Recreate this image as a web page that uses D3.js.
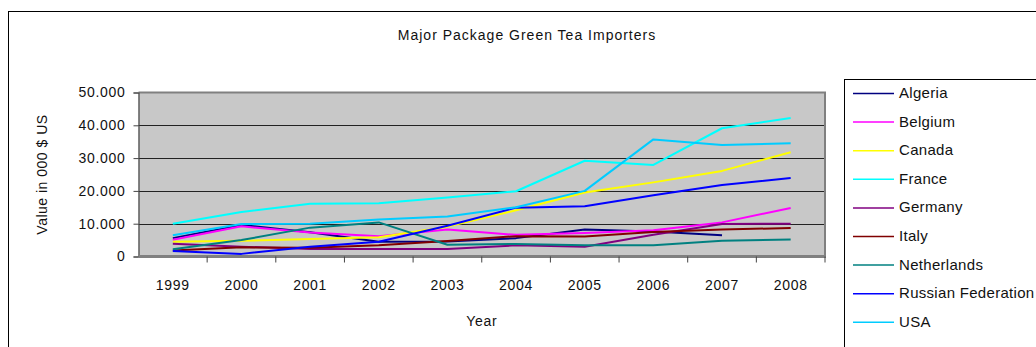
<!DOCTYPE html>
<html>
<head>
<meta charset="utf-8">
<script src="https://cdn.jsdelivr.net/npm/d3@7"></script>
<style>
  html, body { margin: 0; padding: 0; background: #fff; }
  svg { display: block; font-family: "Liberation Sans", Arial, sans-serif; }
</style>
</head>
<body>
<svg id="chart" width="1036" height="347"></svg>
<script>
// Import values, thousands of US dollars
const years = ["1999", "2000", "2001", "2002", "2003", "2004", "2005", "2006", "2007", "2008"];
const countries = ["Algeria", "Belgium", "Canada", "France", "Germany", "Italy", "Netherlands", "Russian Federation", "USA"];
const colors = ["#000080", "#FF00FF", "#FFFF00", "#00FFFF", "#800080", "#800000", "#008080", "#0000FF", "#00CCFF"];

const algeria     = [5600, 9600, 7400, 4500, 4600, 5600, 8200, 7600, 6500, null];
const belgium     = [5100, 9200, 7300, 6200, 8200, 6600, 7200, 8000, 10400, 14800];
const canada      = [4500, 4800, 5300, 5900, 9100, 14100, 19500, 22600, 26100, 31800];
const france      = [10000, 13600, 16100, 16200, 18000, 19900, 29200, 27900, 39100, 42200];
const germany     = [3900, 3000, 2300, 2300, 2300, 3400, 3000, 6600, 9900, 10000];
const italy       = [1800, 2800, 2700, 3400, 4700, 6200, 6100, 7500, 8200, 8700];
const netherlands = [2200, 5000, 8800, 10400, 3600, 3800, 3400, 3400, 4800, 5200];
const russia      = [1700, 800, 3000, 4500, 9400, 14900, 15300, 18700, 21800, 23900];
const usa         = [6500, 9900, 10000, 11300, 12200, 15000, 20000, 35700, 34000, 34500];

const yTicks = [0, 10000, 20000, 30000, 40000, 50000];

const seriesValues = [algeria, belgium, canada, france, germany, italy, netherlands, russia, usa];
const series = countries.map((name, i) => ({ name, color: colors[i], values: seriesValues[i] }));

const svg = d3.select("#chart");

// Chart frame
svg.append("rect")
  .attr("x", 8.5).attr("y", 11.5)
  .attr("width", 1100).attr("height", 400)
  .attr("fill", "#fff").attr("stroke", "#000").attr("stroke-width", 1);

svg.append("text")
  .attr("x", 527).attr("y", 40)
  .attr("text-anchor", "middle")
  .attr("font-size", 14).attr("letter-spacing", 1).attr("fill", "#111")
  .text("Major Package Green Tea Importers");

// Plot area
const plot = { left: 138.5, right: 825, top: 92.5, bottom: 256.5 };

const x = d3.scaleBand().domain(years).range([plot.left, plot.right]).padding(0);
const y = d3.scaleLinear().domain([0, 50000]).range([plot.bottom, plot.top]);

const locale = d3.formatLocale({ decimal: ",", thousands: ".", grouping: [3], currency: ["", "$"] });
const fmt = locale.format(",");

svg.append("rect")
  .attr("x", plot.left).attr("y", plot.top)
  .attr("width", plot.right - plot.left).attr("height", plot.bottom - plot.top)
  .attr("fill", "#C8C8C8");

// Horizontal gridlines
svg.append("g")
  .selectAll("line")
  .data(yTicks.filter(t => t > 0 && t < 50000))
  .join("line")
  .attr("x1", plot.left).attr("x2", plot.right)
  .attr("y1", d => Math.round(y(d)) + 0.5).attr("y2", d => Math.round(y(d)) + 0.5)
  .attr("stroke", "#222").attr("stroke-width", 1.2);

// Plot border (top and right)
svg.append("path")
  .attr("d", `M${plot.left},${plot.top}H${plot.right}V${plot.bottom}`)
  .attr("fill", "none").attr("stroke", "#808080").attr("stroke-width", 2);

// Y axis
const yAxis = d3.axisLeft(y).tickValues(yTicks).tickFormat(d => fmt(d)).tickSize(5).tickPadding(8);
const gy = svg.append("g").attr("transform", `translate(${plot.left},0)`).call(yAxis);
gy.select(".domain").attr("stroke", "#444").attr("stroke-width", 1.2);
gy.selectAll(".tick line").attr("stroke", "#444");
gy.selectAll(".tick text")
  .attr("font-size", 14).attr("letter-spacing", 0.7).attr("fill", "#111")
  .attr("font-family", "Liberation Sans, Arial, sans-serif");

// X axis with ticks between categories
const gx = svg.append("g").attr("transform", `translate(0,${plot.bottom})`);
gx.append("line")
  .attr("x1", plot.left).attr("x2", plot.right + 1)
  .attr("y1", 0).attr("y2", 0)
  .attr("stroke", "#808080").attr("stroke-width", 3);
gx.selectAll("line.tk")
  .data(years.slice(1).concat(["end"]))
  .join("line").attr("class", "tk")
  .attr("x1", d => d === "end" ? plot.right : x(d))
  .attr("x2", d => d === "end" ? plot.right : x(d))
  .attr("y1", 0).attr("y2", 6)
  .attr("stroke", "#444");
gx.selectAll("text")
  .data(years)
  .join("text")
  .attr("x", d => x(d) + x.bandwidth() / 2)
  .attr("y", 33)
  .attr("text-anchor", "middle")
  .attr("font-size", 14).attr("letter-spacing", 0.7).attr("fill", "#111")
  .text(d => d);

// Axis titles
svg.append("text")
  .attr("x", (plot.left + plot.right) / 2).attr("y", 326)
  .attr("text-anchor", "middle").attr("font-size", 14).attr("letter-spacing", 0.7).attr("fill", "#111")
  .text("Year");

svg.append("text")
  .attr("transform", `translate(47,${(plot.top + plot.bottom) / 2}) rotate(-90)`)
  .attr("text-anchor", "middle").attr("font-size", 14).attr("letter-spacing", 0.5).attr("fill", "#111")
  .text("Value in 000 $ US");

// Series lines
const line = d3.line()
  .defined(d => d != null)
  .x((d, i) => x(years[i]) + x.bandwidth() / 2)
  .y(d => y(d));

svg.append("g")
  .selectAll("path")
  .data(series)
  .join("path")
  .attr("d", d => line(d.values))
  .attr("fill", "none")
  .attr("stroke", d => d.color)
  .attr("stroke-width", 2)
  .attr("stroke-linejoin", "round");

// Legend
const legend = svg.append("g");
legend.append("rect")
  .attr("x", 844.5).attr("y", 79.5)
  .attr("width", 300).attr("height", 300)
  .attr("fill", "#fff").attr("stroke", "#000").attr("stroke-width", 1);

const item = legend.selectAll("g.item")
  .data(series)
  .join("g").attr("class", "item")
  .attr("transform", (d, i) => `translate(0,${93 + i * 28.6})`);
item.append("line")
  .attr("x1", 853).attr("x2", 894)
  .attr("y1", 0.5).attr("y2", 0.5)
  .attr("stroke", d => d.color).attr("stroke-width", 1.5);
item.append("text")
  .attr("x", 899).attr("y", 5)
  .attr("font-size", 15).attr("letter-spacing", 0.3).attr("fill", "#111")
  .text(d => d.name);
</script>
</body>
</html>
